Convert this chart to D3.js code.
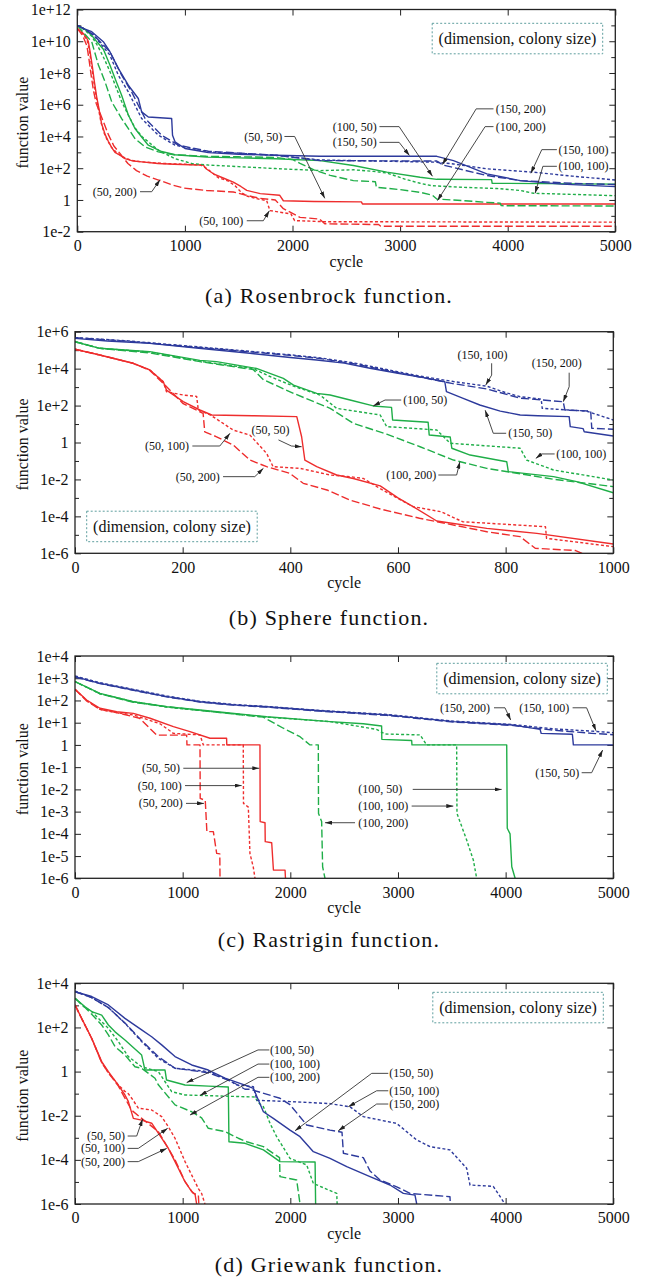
<!DOCTYPE html>
<html>
<head>
<meta charset="utf-8">
<script src="https://cdn.jsdelivr.net/npm/d3@7"></script>
<style>
  body { margin: 0; background: #fff; }
  svg text { font-family: "Liberation Serif", "Times New Roman", serif; fill: #111; }
</style>
</head>
<body>
<svg id="chart" width="647" height="1283"></svg>
<script>
// Convergence of the best function value per cycle for each
// (dimension, colony size) pair. Values are stored as log10 of the function value.

const dimensions = [50, 100, 150];
const colonySizes = [50, 100, 200];

// ---------- (a) Rosenbrock ----------
const rosen_50_50 = [[0,10.8],[40,10.6],[80,10.3],[102,10.0],[120,9.3],[140,8.4],[160,7.4],[180,6.5],[200,5.8],[226,4.8],[260,4.1],[288,3.7],[320,3.3],[350,3.0],[400,2.8],[443,2.6],[520,2.45],[600,2.4],[750,2.3],[900,2.25],[1050,2.22],[1170,2.2],[1200,1.95],[1265,1.65],[1350,1.4],[1450,1.12],[1520,0.85],[1575,0.6],[1700,0.4],[1880,0.3],[1915,-0.05],[2200,-0.1],[2640,-0.12],[2650,-0.25],[5000,-0.25]];
const rosen_50_100 = [[0,10.8],[40,10.55],[90,10.1],[110,9.5],[130,8.6],[150,7.6],[170,6.7],[195,5.8],[220,4.9],[250,4.2],[280,3.75],[320,3.3],[370,2.95],[430,2.7],[500,2.5],[600,2.4],[800,2.3],[1000,2.25],[1150,2.2],[1220,1.9],[1311,1.4],[1400,1.2],[1466,0.9],[1528,0.45],[1575,0.25],[1652,0.1],[1760,-0.04],[1790,-0.67],[1985,-0.88],[2020,-1.3],[2300,-1.37],[5000,-1.4]];
const rosen_50_200 = [[0,10.8],[50,10.35],[90,9.7],[110,8.8],[130,7.8],[150,6.9],[175,6.1],[210,5.5],[250,4.8],[290,4.1],[340,3.4],[400,2.9],[470,2.3],[550,1.85],[650,1.5],[770,1.22],[880,0.95],[990,0.75],[1200,0.6],[1450,0.5],[1570,0.3],[1700,0.1],[1840,0.0],[1915,-0.55],[2000,-0.85],[2070,-1.1],[2250,-1.2],[2300,-1.5],[2800,-1.55],[2820,-1.66],[5000,-1.66]];
const rosen_100_50 = [[0,11.0],[60,10.8],[130,10.4],[190,9.9],[242,9.5],[303,8.5],[365,7.4],[412,6.6],[474,5.35],[536,4.5],[598,3.97],[660,3.45],[784,3.05],[908,2.85],[1200,2.7],[1500,2.65],[1840,2.6],[2256,2.48],[2566,2.17],[2876,1.75],[3186,1.43],[3341,1.3],[3850,1.28],[3856,1.05],[5000,1.0]];
const rosen_100_100 = [[0,11.0],[60,10.75],[130,10.35],[190,9.7],[250,8.9],[303,8.1],[360,7.1],[412,6.2],[474,5.35],[536,4.55],[600,4.0],[660,3.66],[760,3.1],[908,2.6],[1063,2.3],[1218,2.2],[1500,2.1],[1838,1.98],[2256,1.85],[2566,1.9],[2750,1.8],[2876,1.7],[3050,1.3],[3186,1.05],[3290,0.9],[3573,0.8],[3900,0.72],[4116,0.6],[4240,0.42],[4600,0.35],[5000,0.27]];
const rosen_100_200 = [[0,11.0],[50,10.6],[134,9.97],[196,8.5],[258,7.44],[320,6.18],[412,5.13],[536,3.87],[630,3.34],[753,3.03],[900,2.85],[1200,2.75],[1500,2.72],[1840,2.68],[2000,2.55],[2070,2.3],[2200,1.9],[2350,1.55],[2566,1.22],[2770,1.15],[2780,0.8],[3000,0.65],[3186,0.48],[3300,0.3],[3341,0.06],[3600,-0.05],[3806,-0.15],[3930,-0.2],[3940,-0.36],[5000,-0.38]];
const rosen_150_50 = [[0,11.0],[60,10.8],[134,10.6],[242,9.97],[303,9.34],[381,8.29],[474,7.23],[567,6.39],[598,5.55],[660,5.23],[877,5.13],[885,4.08],[908,3.66],[1001,3.24],[1218,2.98],[1500,2.88],[1838,2.82],[2256,2.75],[3341,2.75],[3496,2.48],[3806,1.64],[4116,1.22],[4500,1.0],[5000,0.84]];
const rosen_150_100 = [[0,11.0],[60,10.8],[150,10.4],[303,9.13],[381,7.86],[474,6.81],[536,5.97],[598,5.13],[753,4.08],[908,3.45],[1218,3.03],[1838,2.82],[2256,2.52],[3341,2.38],[3496,2.27],[3806,1.96],[4240,1.75],[4600,1.5],[5000,1.26]];
const rosen_150_200 = [[0,11.0],[60,10.8],[150,10.4],[303,9.34],[412,7.86],[505,6.81],[567,5.97],[630,5.13],[784,4.08],[939,3.45],[1218,3.07],[1838,2.82],[2256,2.48],[3341,2.45],[3400,2.2],[3806,1.54],[4116,1.22],[4600,1.05],[5000,0.97]];

// ---------- (b) Sphere ----------
const sphere_50_50 = [[0,5.05],[46,4.74],[108,4.29],[139,3.93],[164,3.29],[170,2.84],[201,2.21],[232,1.76],[254,1.49],[330,1.45],[412,1.4],[421,0.31],[427,-0.95],[449,-1.31],[486,-1.76],[517,-1.95],[567,-2.35],[600,-3.0],[628,-3.47],[672,-4.25],[765,-4.65],[858,-4.92],[1000,-5.5]];
const sphere_50_100 = [[0,5.05],[46,4.74],[108,4.29],[139,3.93],[164,3.29],[170,2.75],[201,2.57],[226,2.5],[229,1.76],[251,1.5],[294,0.67],[325,0.4],[356,-0.59],[368,-1.31],[418,-1.4],[474,-1.76],[511,-1.85],[536,-1.95],[567,-2.5],[628,-3.47],[680,-3.75],[720,-4.29],[874,-4.56],[876,-5.19],[1000,-5.64]];
const sphere_50_200 = [[0,5.05],[46,4.74],[108,4.29],[139,3.9],[164,3.2],[201,2.1],[238,1.58],[241,0.58],[263,0.31],[294,-0.14],[325,-0.95],[356,-1.31],[399,-1.67],[424,-2.21],[468,-2.57],[511,-3.12],[567,-3.6],[640,-4.1],[765,-4.83],[827,-5.1],[855,-5.73],[930,-5.85],[942,-6.0]];
const sphere_100_50 = [[0,5.46],[46,5.1],[139,4.92],[232,4.45],[263,4.38],[337,4.01],[387,3.47],[406,3.11],[449,2.66],[474,2.57],[511,2.3],[554,1.98],[588,1.9],[590,1.22],[656,1.1],[658,0.41],[697,0.3],[700,-0.31],[734,-0.68],[802,-1.04],[805,-1.58],[889,-1.85],[932,-2.12],[1000,-2.72]];
const sphere_100_100 = [[0,5.46],[46,5.1],[139,4.9],[232,4.4],[331,4.0],[360,3.6],[406,3.05],[455,2.57],[486,1.85],[567,1.49],[579,0.86],[672,0.68],[697,-0.04],[827,-0.31],[839,-0.95],[889,-1.49],[1000,-2.03]];
const sphere_100_200 = [[0,5.46],[46,5.1],[139,4.85],[232,4.38],[331,3.95],[350,3.4],[406,2.66],[474,1.85],[517,1.04],[579,0.45],[641,-0.23],[703,-0.95],[765,-1.4],[889,-1.99],[1000,-2.39]];
const sphere_150_50 = [[0,5.64],[60,5.5],[139,5.37],[230,5.1],[325,4.83],[400,4.6],[449,4.47],[500,4.3],[548,4.02],[600,3.75],[650,3.5],[687,3.29],[690,2.75],[720,2.4],[752,2.03],[790,1.7],[827,1.49],[860,1.45],[918,1.4],[920,0.86],[944,0.75],[946,0.58],[1000,0.35]];
const sphere_150_100 = [[0,5.68],[100,5.5],[200,5.25],[300,5.0],[400,4.75],[455,4.58],[520,4.3],[579,3.95],[640,3.6],[703,3.3],[765,3.05],[800,2.7],[827,2.48],[866,2.35],[868,1.85],[950,1.7],[1000,1.22]];
const sphere_150_200 = [[0,5.68],[100,5.48],[200,5.22],[300,4.97],[400,4.72],[455,4.55],[520,4.25],[579,3.9],[640,3.55],[700,3.2],[765,2.9],[827,2.4],[907,2.21],[910,1.76],[958,1.7],[960,0.77],[1000,0.72]];

// ---------- (c) Rastrigin ----------
const rastrigin_50_50 = [[0,2.5],[108,2.02],[232,1.65],[387,1.49],[542,1.42],[697,1.2],[914,0.82],[1068,0.6],[1254,0.3],[1408,0.3],[1410,0.0],[1718,0.0],[1720,-3.45],[1765,-3.5],[1767,-4.35],[1827,-4.4],[1843,-5.63],[1951,-5.63],[1955,-6.0]];
const rastrigin_50_100 = [[0,2.5],[108,2.0],[232,1.6],[387,1.45],[542,1.35],[790,0.95],[914,0.52],[1161,0.45],[1192,0.0],[1563,0.0],[1565,-2.63],[1610,-2.8],[1625,-4.88],[1656,-5.5],[1672,-6.0]];
const rastrigin_50_200 = [[0,2.5],[108,1.98],[232,1.6],[387,1.45],[600,1.2],[759,0.44],[1037,0.44],[1040,0.0],[1161,0.0],[1163,-2.4],[1210,-2.5],[1225,-3.9],[1285,-3.9],[1316,-4.88],[1345,-4.9],[1347,-6.0]];
const rastrigin_100_50 = [[0,2.85],[232,2.32],[542,1.94],[852,1.72],[1161,1.57],[1781,1.27],[2369,1.05],[2678,0.95],[2848,0.85],[2850,0.25],[3127,0.2],[3130,0.0],[4010,0.0],[4015,-3.75],[4041,-4.0],[4057,-5.48],[4088,-6.0]];
const rastrigin_100_100 = [[0,2.85],[232,2.3],[542,1.95],[852,1.7],[1161,1.55],[1781,1.25],[2369,1.05],[2800,0.7],[2879,0.49],[3205,0.45],[3267,0.0],[3545,0.0],[3548,-3.08],[3638,-4.28],[3700,-5.18],[3731,-6.0]];
const rastrigin_100_200 = [[0,2.85],[232,2.3],[542,1.92],[852,1.72],[1161,1.55],[1749,1.25],[1935,0.75],[2090,0.37],[2183,0.0],[2260,0.0],[2262,-3.08],[2291,-3.45],[2300,-5.48],[2322,-6.0]];
const rastrigin_150_50 = [[0,3.07],[232,2.77],[542,2.47],[852,2.17],[1161,1.94],[1471,1.8],[1781,1.72],[2276,1.54],[2895,1.35],[3514,1.05],[4056,0.9],[4320,0.7],[4330,0.52],[4620,0.48],[4629,0.0],[5000,0.0]];
const rastrigin_150_100 = [[0,3.1],[232,2.8],[542,2.5],[852,2.2],[1161,1.96],[1471,1.82],[1781,1.73],[2276,1.55],[2895,1.37],[3514,1.07],[4056,0.92],[4450,0.72],[4800,0.62],[5000,0.55]];
const rastrigin_150_200 = [[0,3.05],[232,2.76],[542,2.46],[852,2.16],[1161,1.93],[1471,1.79],[1781,1.7],[2276,1.52],[2895,1.33],[3514,1.03],[4056,0.88],[4450,0.66],[4800,0.52],[5000,0.46]];

// ---------- (d) Griewank ----------
const griewank_50_50 = [[0,3.02],[62,2.41],[155,1.51],[248,0.45],[310,0.0],[402,-0.61],[464,-1.06],[495,-1.35],[542,-2.12],[619,-2.2],[712,-2.34],[805,-3.02],[867,-3.48],[929,-4.08],[1022,-4.99],[1084,-5.44],[1115,-5.55],[1130,-6.0]];
const griewank_50_100 = [[0,3.02],[62,2.4],[155,1.5],[248,0.42],[310,-0.05],[402,-0.6],[464,-0.9],[495,-1.0],[540,-1.3],[588,-1.66],[712,-1.74],[805,-2.04],[867,-2.5],[929,-3.02],[1022,-4.08],[1084,-4.69],[1146,-5.3],[1176,-5.52],[1207,-6.0]];
const griewank_50_200 = [[0,3.02],[62,2.4],[155,1.5],[248,0.4],[310,-0.05],[402,-0.65],[464,-1.2],[526,-1.75],[619,-2.12],[774,-2.72],[867,-3.48],[929,-4.0],[1022,-4.99],[1099,-5.52],[1146,-5.6],[1150,-6.0]];
const griewank_100_50 = [[0,3.32],[93,2.94],[155,2.72],[248,2.56],[310,2.11],[372,1.8],[464,1.43],[619,0.75],[650,0.07],[836,0.07],[850,-0.38],[1022,-0.61],[1238,-0.66],[1424,-0.7],[1430,-3.18],[1579,-3.25],[1750,-3.55],[1904,-4.08],[2230,-4.1],[2235,-6.0]];
const griewank_100_100 = [[0,3.32],[93,2.9],[155,2.72],[248,2.26],[310,1.96],[402,1.36],[495,0.68],[619,0.22],[774,0.0],[898,-0.91],[1022,-1.06],[1579,-1.14],[1672,-1.15],[1700,-1.4],[1750,-1.59],[1812,-2.35],[1873,-2.95],[1997,-3.93],[2152,-4.23],[2214,-5.07],[2431,-5.52],[2435,-6.0]];
const griewank_100_200 = [[0,3.32],[93,2.9],[155,2.6],[248,2.11],[310,1.66],[372,1.13],[464,0.75],[557,0.22],[619,0.15],[743,-0.3],[774,-0.6],[929,-1.51],[1084,-1.82],[1176,-2.1],[1238,-2.57],[1393,-2.72],[1517,-3.02],[1595,-3.18],[1750,-3.4],[1900,-3.9],[1904,-4.76],[2059,-4.91],[2090,-6.0]];
const griewank_150_50 = [[0,3.62],[155,3.4],[310,3.02],[464,2.41],[619,1.89],[712,1.58],[805,1.21],[929,0.68],[1084,0.3],[1238,0.07],[1393,-0.3],[1579,-0.61],[1657,-0.76],[1690,-1.14],[1750,-1.82],[1842,-2.12],[1997,-2.65],[2090,-2.95],[2214,-3.63],[2369,-3.93],[2524,-4.31],[2740,-4.76],[2926,-5.14],[3050,-5.52],[3158,-5.6],[3174,-6.0]];
const griewank_150_100 = [[0,3.65],[155,3.35],[310,2.9],[464,2.19],[619,1.36],[774,0.6],[929,0.15],[1238,0.0],[1424,-0.38],[1500,-0.6],[1657,-0.68],[1690,-1.3],[1997,-1.36],[2369,-1.45],[2555,-1.6],[2678,-2.04],[2988,-2.35],[3174,-3.1],[3298,-3.4],[3483,-3.55],[3638,-4.38],[3669,-5.14],[3885,-5.2],[3994,-6.0]];
const griewank_150_200 = [[0,3.62],[155,3.35],[310,2.9],[464,2.2],[619,1.4],[774,0.68],[929,0.15],[1238,-0.05],[1455,-0.45],[1579,-0.8],[1626,-0.8],[1904,-1.21],[1997,-1.5],[2152,-2.42],[2369,-2.65],[2480,-2.75],[2493,-3.7],[2678,-3.9],[2740,-4.5],[2833,-4.91],[2988,-5.22],[3112,-5.52],[3483,-5.67],[3486,-6.0]];

// ---------- ticks ----------
const cycleTicks5000 = [0, 1000, 2000, 3000, 4000, 5000];
const cycleTicks1000 = [0, 200, 400, 600, 800, 1000];
const rosenYTicks = [1e-2, 1, 1e2, 1e4, 1e6, 1e8, 1e10, 1e12];
const rosenYLabels = ["1e-2", "1", "1e+2", "1e+4", "1e+6", "1e+8", "1e+10", "1e+12"];
const rosenYMinor = [1e-1, 1e1, 1e3, 1e5, 1e7, 1e9, 1e11];
const sphereYTicks = [1e-6, 1e-4, 1e-2, 1, 1e2, 1e4, 1e6];
const sphereYLabels = ["1e-6", "1e-4", "1e-2", "1", "1e+2", "1e+4", "1e+6"];
const sphereYMinor = [1e-5, 1e-3, 1e-1, 1e1, 1e3, 1e5];
const rastriginYTicks = [1e-6, 1e-5, 1e-4, 1e-3, 1e-2, 1e-1, 1, 1e1, 1e2, 1e3, 1e4];
const rastriginYLabels = ["1e-6", "1e-5", "1e-4", "1e-3", "1e-2", "1e-1", "1", "1e+1", "1e+2", "1e+3", "1e+4"];
const griewankYTicks = [1e-6, 1e-4, 1e-2, 1, 1e2, 1e4];
const griewankYLabels = ["1e-6", "1e-4", "1e-2", "1", "1e+2", "1e+4"];
const griewankYMinor = [1e-5, 1e-3, 1e-1, 1e1, 1e3];

// ---------- callouts: label anchor and leader path, in (cycle, log10 value) ----------
const rosenNotes = [
  {t: "(50, 50)",   a: "end",   at: [1905, 4.0],  path: [[1925, 4.0], [2020, 4.0], [2300, 0.1]]},
  {t: "(50, 200)",  a: "end",   at: [552, 0.52],  path: [[583, 0.52], [692, 0.52], [769, 1.28]]},
  {t: "(50, 100)",  a: "end",   at: [1543, -1.31], path: [[1575, -1.31], [1729, -1.31], [1785, -0.68]]},
  {t: "(100, 50)",  a: "end",   at: [2784, 4.62], path: [[2808, 4.62], [2991, 4.62], [3301, 1.49]]},
  {t: "(150, 50)",  a: "end",   at: [2784, 3.63], path: [[2808, 3.63], [2991, 3.63], [3087, 2.8]]},
  {t: "(150, 200)", a: "start", at: [3890, 5.74], path: [[3868, 5.74], [3707, 5.74], [3393, 2.23]]},
  {t: "(100, 200)", a: "start", at: [3890, 4.62], path: [[3868, 4.62], [3790, 4.62], [3347, -0.04]]},
  {t: "(150, 100)", a: "start", at: [4472, 3.17], path: [[4457, 3.17], [4317, 3.17], [4215, 1.68]]},
  {t: "(100, 100)", a: "start", at: [4472, 2.12], path: [[4457, 2.12], [4327, 2.12], [4255, 0.42]]}
];
const sphereNotes = [
  {t: "(50, 100)",  a: "end",    at: [212, -0.19], path: [[218, -0.19], [269, -0.19], [288, 0.5]]},
  {t: "(50, 50)",   a: "middle", at: [363, 0.68],  path: [[378, 0.14], [402, -0.19], [421, -0.23]]},
  {t: "(50, 200)",  a: "end",    at: [269, -1.85], path: [[275, -1.85], [334, -1.85], [350, -1.4]]},
  {t: "(150, 100)", a: "middle", at: [757, 4.74],  path: [[774, 4.29], [774, 3.65], [763, 3.11]]},
  {t: "(150, 200)", a: "middle", at: [895, 4.32],  path: [[918, 3.78], [918, 3.02], [907, 2.21]]},
  {t: "(100, 50)",  a: "start",  at: [610, 2.3],   path: [[606, 2.3], [576, 2.3], [554, 1.98]]},
  {t: "(150, 50)",  a: "start",  at: [805, 0.5],   path: [[801, 0.5], [777, 0.5], [762, 1.75]]},
  {t: "(100, 100)", a: "start",  at: [894, -0.62], path: [[891, -0.62], [867, -0.62], [856, -0.86]]},
  {t: "(100, 200)", a: "end",    at: [671, -1.76], path: [[675, -1.76], [709, -1.76], [715, -1.04]]}
];
const rastriginNotes = [
  {t: "(50, 50)",   a: "end",   at: [975, -1.05],  path: [[1006, -1.05], [1712, -1.05]]},
  {t: "(50, 100)",  a: "end",   at: [991, -1.83],  path: [[1022, -1.83], [1548, -1.83]]},
  {t: "(50, 200)",  a: "end",   at: [1000, -2.63], path: [[1031, -2.63], [1198, -2.63]]},
  {t: "(100, 50)",  a: "start", at: [2632, -2.0],  path: [[3137, -2.0], [3963, -2.0]]},
  {t: "(100, 100)", a: "start", at: [2632, -2.75], path: [[3127, -2.75], [3514, -2.75]]},
  {t: "(100, 200)", a: "start", at: [2632, -3.5],  path: [[2601, -3.5], [2322, -3.5]]},
  {t: "(150, 200)", a: "start", at: [3390, 1.67],  path: [[3892, 1.67], [3994, 1.67], [4047, 1.12]]},
  {t: "(150, 100)", a: "start", at: [4127, 1.67],  path: [[4622, 1.67], [4752, 1.67], [4839, 0.64]]},
  {t: "(150, 50)",  a: "end",   at: [4684, -1.25], path: [[4706, -1.25], [4799, -1.25], [4901, -0.23]]}
];
const griewankNotes = [
  {t: "(50, 50)",   a: "end",   at: [464, -2.92],  path: [[489, -2.92], [573, -2.92], [628, -2.15]]},
  {t: "(50, 100)",  a: "end",   at: [464, -3.48],  path: [[489, -3.48], [588, -3.48], [861, -2.57]]},
  {t: "(50, 200)",  a: "end",   at: [464, -4.08],  path: [[489, -4.08], [588, -4.08], [852, -3.48]]},
  {t: "(100, 50)",  a: "start", at: [1811, 0.98],  path: [[1805, 0.98], [1700, 0.98], [1037, -0.5]]},
  {t: "(100, 100)", a: "start", at: [1811, 0.34],  path: [[1805, 0.34], [1700, 0.34], [1161, -1.08]]},
  {t: "(100, 200)", a: "start", at: [1811, -0.26], path: [[1805, -0.26], [1700, -0.26], [1068, -1.97]]},
  {t: "(150, 50)",  a: "start", at: [2920, -0.08], path: [[2910, -0.08], [2756, -0.08], [2044, -2.68]]},
  {t: "(150, 100)", a: "start", at: [2920, -0.87], path: [[2910, -0.87], [2802, -0.87], [2539, -1.59]]},
  {t: "(150, 200)", a: "start", at: [2920, -1.47], path: [[2910, -1.47], [2802, -1.47], [2446, -2.68]]}
];

// ---------- styling ----------
const dimColor = {50: "#ee2d2d", 100: "#1fae48", 150: "#2d3a9c"};
const colonyDash = {50: null, 100: "3,2.2", 200: "8,3"};

function seriesOf(list) {
  return list.map((pts, i) => ({dim: dimensions[Math.floor(i / 3)], colony: colonySizes[i % 3], pts}));
}

const panels = [
  {
    box: {left: 77.3, top: 9.5, right: 615.3, bottom: 231.7},
    xDomain: [0, 5000], yDomain: [1e-2, 1e12],
    xTicks: cycleTicks5000, yTicks: rosenYTicks, yLabels: rosenYLabels, yMinor: rosenYMinor,
    series: seriesOf([rosen_50_50, rosen_50_100, rosen_50_200, rosen_100_50, rosen_100_100, rosen_100_200, rosen_150_50, rosen_150_100, rosen_150_200]),
    notes: rosenNotes, legend: {corner: "tr", gx: 12.6, gy: 13.8},
    caption: "(a) Rosenbrock function.", captionY: 303
  },
  {
    box: {left: 75, top: 331.7, right: 613.3, bottom: 553.3},
    xDomain: [0, 1000], yDomain: [1e-6, 1e6],
    xTicks: cycleTicks1000, yTicks: sphereYTicks, yLabels: sphereYLabels, yMinor: sphereYMinor,
    series: seriesOf([sphere_50_50, sphere_50_100, sphere_50_200, sphere_100_50, sphere_100_100, sphere_100_200, sphere_150_50, sphere_150_100, sphere_150_200]),
    notes: sphereNotes, legend: {corner: "bl", gx: 11.7, gy: 11.6},
    caption: "(b) Sphere function.", captionY: 625
  },
  {
    box: {left: 75, top: 656, right: 613.3, bottom: 878.3},
    xDomain: [0, 5000], yDomain: [1e-6, 1e4],
    xTicks: cycleTicks5000, yTicks: rastriginYTicks, yLabels: rastriginYLabels, yMinor: [],
    series: seriesOf([rastrigin_50_50, rastrigin_50_100, rastrigin_50_200, rastrigin_100_50, rastrigin_100_100, rastrigin_100_200, rastrigin_150_50, rastrigin_150_100, rastrigin_150_200]),
    notes: rastriginNotes, legend: {corner: "tr", gx: 6, gy: 7.3},
    caption: "(c) Rastrigin function.", captionY: 947
  },
  {
    box: {left: 75, top: 983.3, right: 613.3, bottom: 1204},
    xDomain: [0, 5000], yDomain: [1e-6, 1e4],
    xTicks: cycleTicks5000, yTicks: griewankYTicks, yLabels: griewankYLabels, yMinor: griewankYMinor,
    series: seriesOf([griewank_50_50, griewank_50_100, griewank_50_200, griewank_100_50, griewank_100_100, griewank_100_200, griewank_150_50, griewank_150_100, griewank_150_200]),
    notes: griewankNotes, legend: {corner: "tr", gx: 10, gy: 9},
    caption: "(d) Griewank function.", captionY: 1272
  }
];

const svg = d3.select("#chart");
const defs = svg.append("defs");
defs.append("marker")
  .attr("id", "arrowhead")
  .attr("viewBox", "0 0 10 6")
  .attr("refX", 10).attr("refY", 3)
  .attr("markerWidth", 7).attr("markerHeight", 4.2)
  .attr("markerUnits", "userSpaceOnUse")
  .attr("orient", "auto")
  .append("path").attr("d", "M0,0 L10,3 L0,6 Z").attr("fill", "#222");

panels.forEach((p, pi) => {
  const {left, top, right, bottom} = p.box;
  const w = right - left, h = bottom - top;
  const x = d3.scaleLinear().domain(p.xDomain).range([left, right]);
  const y = d3.scaleLog().domain(p.yDomain).range([bottom, top]);
  const g = svg.append("g");

  defs.append("clipPath").attr("id", "clip" + pi)
    .append("rect").attr("x", left).attr("y", top).attr("width", w).attr("height", h);

  // axes with inward ticks, mirrored on top and right
  const styleAxis = sel => {
    sel.select(".domain").remove();
    sel.selectAll(".tick line").attr("stroke", "#222").attr("stroke-width", 1);
    sel.selectAll("text").attr("font-size", 16).attr("fill", "#111")
      .attr("font-family", "'Liberation Serif', serif");
  };
  g.append("g").attr("transform", `translate(0,${bottom})`)
    .call(d3.axisBottom(x).tickValues(p.xTicks).tickSize(-6).tickPadding(8).tickFormat(d3.format("d")))
    .call(styleAxis);
  g.append("g").attr("transform", `translate(0,${top})`)
    .call(d3.axisTop(x).tickValues(p.xTicks).tickSize(-6).tickFormat(""))
    .call(styleAxis);
  g.append("g").attr("transform", `translate(${left},0)`)
    .call(d3.axisLeft(y).tickValues(p.yTicks).tickSize(-6).tickPadding(6.5).tickFormat((d, i) => p.yLabels[i]))
    .call(styleAxis);
  g.append("g").attr("transform", `translate(${right},0)`)
    .call(d3.axisRight(y).tickValues(p.yTicks).tickSize(-6).tickFormat(""))
    .call(styleAxis);
  if (p.yMinor.length) {
    g.append("g").attr("transform", `translate(${left},0)`)
      .call(d3.axisLeft(y).tickValues(p.yMinor).tickSize(-4).tickFormat(""))
      .call(styleAxis);
    g.append("g").attr("transform", `translate(${right},0)`)
      .call(d3.axisRight(y).tickValues(p.yMinor).tickSize(-4).tickFormat(""))
      .call(styleAxis);
  }

  // convergence curves
  const line = d3.line().x(d => x(d[0])).y(d => y(Math.pow(10, d[1])));
  const curves = g.append("g").attr("clip-path", `url(#clip${pi})`);
  p.series.forEach(s => {
    curves.append("path")
      .attr("d", line(s.pts))
      .attr("fill", "none")
      .attr("stroke", dimColor[s.dim])
      .attr("stroke-width", 1.4)
      .attr("stroke-linejoin", "round")
      .attr("stroke-dasharray", colonyDash[s.colony]);
  });

  // callouts
  const notes = g.append("g");
  p.notes.forEach(n => {
    notes.append("path")
      .attr("d", d3.line()(n.path.map(q => [x(q[0]), y(Math.pow(10, q[1]))])))
      .attr("fill", "none").attr("stroke", "#333").attr("stroke-width", 0.9)
      .attr("marker-end", "url(#arrowhead)");
    notes.append("text")
      .attr("x", x(n.at[0])).attr("y", y(Math.pow(10, n.at[1])))
      .attr("dy", "0.34em").attr("text-anchor", n.a)
      .attr("font-size", 12).text(n.t);
  });

  // legend box
  const lw = 170.5, lh = 30.5;
  const lx = p.legend.corner === "tr" ? right - p.legend.gx - lw : left + p.legend.gx;
  const ly = p.legend.corner === "tr" ? top + p.legend.gy : bottom - p.legend.gy - lh;
  g.append("rect").attr("x", lx).attr("y", ly).attr("width", lw).attr("height", lh)
    .attr("fill", "none").attr("stroke", "#5e9e9e").attr("stroke-width", 1)
    .attr("stroke-dasharray", "2,2");
  g.append("text").attr("x", lx + lw / 2).attr("y", ly + lh / 2).attr("dy", "0.34em")
    .attr("text-anchor", "middle").attr("font-size", 16).text("(dimension, colony size)");

  // frame
  g.append("rect").attr("x", left).attr("y", top).attr("width", w).attr("height", h)
    .attr("fill", "none").attr("stroke", "#222").attr("stroke-width", 1.3);

  // axis titles and caption
  g.append("text").attr("x", (left + right) / 2).attr("y", bottom + 35)
    .attr("text-anchor", "middle").attr("font-size", 16).text("cycle");
  g.append("text")
    .attr("transform", `translate(28,${(top + bottom) / 2 + 2}) rotate(-90)`)
    .attr("text-anchor", "middle").attr("font-size", 16).text("function value");
  g.append("text").attr("x", 329).attr("y", p.captionY)
    .attr("text-anchor", "middle").attr("font-size", 22).attr("letter-spacing", 1.2)
    .text(p.caption);
});
</script>
</body>
</html>
